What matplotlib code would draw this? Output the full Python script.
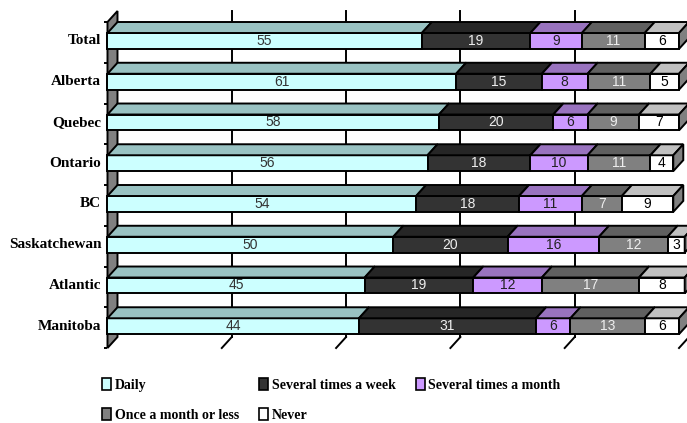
import numpy as np
import matplotlib
matplotlib.use("Agg")
import matplotlib.pyplot as plt
from matplotlib.patches import Rectangle, Polygon, Patch

regions = ["Total", "Alberta", "Quebec", "Ontario", "BC",
           "Saskatchewan", "Atlantic", "Manitoba"]
series = ["Daily", "Several times a week", "Several times a month",
          "Once a month or less", "Never"]

daily = [55, 61, 58, 56, 54, 50, 45, 44]
weekly = [19, 15, 20, 18, 18, 20, 19, 31]
monthly = [9, 8, 6, 10, 11, 16, 12, 6]
rarely = [11, 11, 9, 11, 7, 12, 17, 13]
never = [6, 5, 7, 4, 9, 3, 8, 6]

front_cols = ["#CCFFFF", "#333333", "#CC99FF", "#808080", "#FFFFFF"]
top_cols = ["#99C2C2", "#262626", "#9973BF", "#606060", "#C0C0C0"]
text_cols = ["#333333", "#EEEEEE", "#222222", "#EEEEEE", "#000000"]

# fake 3D depth in data units
DX = 1.75
DY = 0.27
FRONT_TOP = -0.23
FRONT_H = 0.39
LW = 1.4

serif = ["Liberation Serif", "DejaVu Serif"]
sans = ["Liberation Sans", "DejaVu Sans"]

fig = plt.figure(figsize=(6.87, 4.23), dpi=100)
ax = fig.add_axes([100 / 687, 63 / 423, 587 / 687, 360 / 423])
ax.set_xlim(-1.31, 101.4)
ax.set_ylim(7.794, -1.04)
ax.axis("off")

n = len(regions)
y_top = -0.5
y_bot = n - 0.5

# left wall
wall = Polygon([(0, y_top), (DX, y_top - DY), (DX, y_bot - DY), (0, y_bot)],
               closed=True, facecolor="#808080", edgecolor="black", lw=LW, zorder=1)
ax.add_patch(wall)
for k in range(n + 1):
    ax.plot([-0.6, 0], [y_top + k, y_top + k], color="black", lw=LW, zorder=1,
            solid_capstyle="butt")

# back wall gridlines and floor ticks
for gx in range(20, 101, 20):
    ax.plot([gx + DX, gx + DX], [y_top - DY, y_bot - DY], color="black", lw=LW, zorder=0.5)
    ax.plot([gx + DX, gx], [y_bot - DY, y_bot], color="black", lw=LW, zorder=0.5,
            clip_on=False)

data = np.array([daily, weekly, monthly, rarely, never], dtype=float)

for i in range(n):
    left = 0.0
    y0 = i + FRONT_TOP
    y1 = y0 + FRONT_H
    for s in range(len(series)):
        w = data[s, i]
        right = left + w
        ax.add_patch(Rectangle((left, y0), w, FRONT_H, facecolor=front_cols[s],
                               edgecolor="black", lw=LW, zorder=3))
        ax.add_patch(Polygon([(left, y0), (right, y0), (right + DX, y0 - DY),
                              (left + DX, y0 - DY)], closed=True,
                             facecolor=top_cols[s], edgecolor="black", lw=LW, zorder=3))
        if s == len(series) - 1:
            ax.add_patch(Polygon([(right, y0), (right + DX, y0 - DY),
                                  (right + DX, y1 - DY), (right, y1)], closed=True,
                                 facecolor="#808080", edgecolor="black", lw=LW,
                                 zorder=3, clip_on=False))
        ax.text((left + right) / 2, (y0 + y1) / 2, f"{int(w)}", ha="center",
                va="center", fontsize=10, color=text_cols[s], family=sans, zorder=4)
        left = right
    ax.text(-1.1, (y0 + y1) / 2, regions[i], ha="right", va="center",
            fontsize=11, fontweight="bold", family=serif, clip_on=False)

# legend: column-major order gives two rows
handles = [Patch(facecolor=front_cols[s], edgecolor="black", lw=1.2, label=series[s])
           for s in range(len(series))]
order = [0, 3, 1, 4, 2]
fig.legend([handles[k] for k in order], [series[k] for k in order],
           ncol=3, loc="upper left", bbox_to_anchor=(91 / 687, 1 - 367 / 423),
           frameon=False, handlelength=0.65, handleheight=0.9, handletextpad=0.25,
           columnspacing=1.45, labelspacing=1.2, borderpad=0.3,
           prop={"family": serif, "weight": "bold", "size": 10})

fig.savefig("out.png", dpi=100)
